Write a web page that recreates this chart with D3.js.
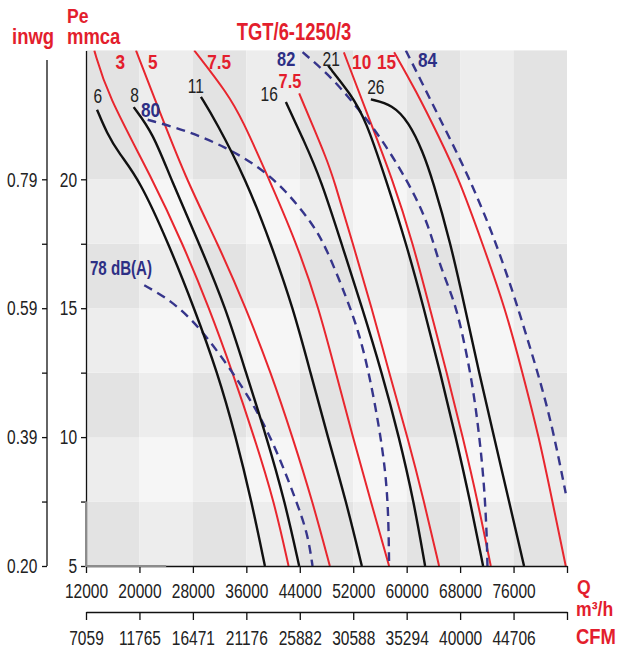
<!DOCTYPE html>
<html>
<head>
<meta charset="utf-8">
<script src="https://cdn.jsdelivr.net/npm/d3@7"></script>
<style>
  html, body { margin: 0; padding: 0; background: #ffffff; }
  svg { display: block; }
</style>
</head>
<body>
<div id="chart"></div>
<script>
// ---------------- DATA ----------------
// Air flow Q (m3/h) ticks and labels
const qTicks = [12000, 20000, 28000, 36000, 44000, 52000, 60000, 68000, 76000, 84000];
const qTickLabels = ["12000", "20000", "28000", "36000", "44000", "52000", "60000", "68000", "76000", ""];
const cfmTickLabels = ["7059", "11765", "16471", "21176", "25882", "30588", "35294", "40000", "44706", ""];
// Pressure Pe (mmca) ticks and labels
const peTicks = [5, 7.5, 10, 12.5, 15, 17.5, 20];
const peTickLabels = ["5", "", "10", "", "15", "", "20"];
const inwgTickLabels = ["0.20", "", "0.39", "", "0.59", "", "0.79"];
const peMax = 25;

// Fan curves (blade angle), [Q m3/h, Pe mmca]
const fanLabels = ["6", "8", "11", "16", "21", "26"];
const fan6  = [[13650,22.7],[15100,21.8],[16940,21.0],[19970,20],[24370,17.5],[28200,15],[31700,12.5],[34440,10],[36790,7.5],[38780,5]];
const fan8  = [[19140,22.8],[22020,21.8],[24720,20],[28950,17.5],[32940,15],[35940,12.5],[39030,10],[41770,7.5],[43910,5]];
const fan11 = [[29200,23.2],[31340,22.3],[35940,20],[39680,17.5],[43010,15],[45600,12.5],[48200,10],[50950,7.5],[53290,5]];
const fan16 = [[41920,23.0],[44610,21.5],[47160,20],[50250,17.5],[53360,15],[56280,12.5],[58870,10],[61070,7.5],[62760,5]];
const fan21 = [[48250,24.4],[51640,23.3],[53890,22.3],[56880,20],[59950,17.5],[62570,15],[65030,12.5],[67350,10],[69520,7.5],[71440,5]];
const fan26 = [[54640,23.1],[57880,22.9],[60370,22.2],[62370,21.1],[63870,20],[66600,17.5],[68740,15],[70840,12.5],[73080,10],[75330,7.5],[77570,5]];

// Absorbed power curves (kW)
const powerLabels = ["3", "5", "7.5", "7.5", "10", "15"];
const pow3   = [[13240,25],[15100,23.33],[21980,20],[26470,17.5],[30450,15],[33950,12.5],[37180,10],[40170,7.5],[42320,5]];
const pow5   = [[19480,25],[21980,23.33],[26960,20],[31750,17.5],[35940,15],[39680,12.5],[42920,10],[45910,7.5],[48500,5]];
const pow75a = [[28200,25],[33200,23.33],[35440,22.29],[38930,20.28],[43570,17.5],[46860,15],[49400,12.5],[51940,10],[54640,7.5],[57370,5]];
const pow75b = [[43910,23.33],[45910,22.1],[47900,20.86],[49100,20],[51940,17.5],[54790,15],[57370,12.5],[60130,10],[62610,7.5],[64850,5]];
const pow10  = [[50600,24.92],[54380,22.35],[57880,20],[60960,17.5],[63460,15],[66010,12.5],[68400,10],[70640,7.5],[72590,5]];
const pow15  = [[58120,24.93],[61370,23.45],[64850,21.64],[67850,20],[71350,17.5],[74760,15],[77330,12.5],[79810,10],[81820,7.5],[83810,5]];

// Noise curves dB(A)
const noiseLabels = ["78 dB(A)", "80", "82", "84"];
const noise78 = [[20720,15.89],[24720,15.31],[28950,14.28],[33440,12.72],[37930,10.92],[40920,9.24],[43420,7.56],[45170,6.28],[45910,5]];
const noise80 = [[21230,22.31],[26960,21.9],[32940,21.25],[37930,20.48],[41920,19.57],[45910,18.28],[47900,17.38],[51150,15.31],[52890,14.02],[54380,12.47],[55880,10.4],[56880,8.59],[57280,6.91],[57370,5]];
const noise82 = [[44420,24.93],[47900,24.16],[50900,23.32],[55380,21.9],[58870,20.48],[61370,19.31],[63360,18.15],[64850,16.73],[67100,15.31],[68350,14.02],[69850,12.08],[70840,10.14],[71590,8.21],[71990,6.27],[72090,5]];
const noise84 = [[59870,25],[62370,23.71],[64850,22.41],[67850,20.87],[70340,19.45],[72840,17.9],[75830,15.7],[77820,14.02],[79810,12.34],[81820,10.4],[83810,7.82]];

// Grey limit trace at bottom-left
const greyTrace = [[12000,7.5],[12000,5],[24000,5]];

const fanCurves = [fan6, fan8, fan11, fan16, fan21, fan26];
const powerCurves = [pow3, pow5, pow75a, pow75b, pow10, pow15];
const noiseCurves = [noise78, noise80, noise82, noise84];

// ---------------- LAYOUT / STYLE ----------------
const W = 617, H = 651;
const FONT = "'Liberation Sans', Arial, sans-serif";
const RED = "#e31e2d", RED_LINE = "#e8262e", BLUE = "#2d2f85", BLUE_LINE = "#36358b", INK = "#222";

const x = d3.scaleLinear().domain([qTicks[0], qTicks[qTicks.length - 1]]).range([86, 567]);
const y = d3.scaleLinear().domain([peTicks[0], peMax]).range([566, 50.4]);

const svg = d3.select("#chart").append("svg").attr("width", W).attr("height", H);

// Background checkerboard
const rowEdges = peTicks.concat([peMax]);
const bg = svg.append("g");
for (let i = 0; i < qTicks.length - 1; i++) {
  for (let j = 0; j < rowEdges.length - 1; j++) {
    const colDark = i % 2 === 0, rowDark = j % 2 === 0;
    const c = colDark && rowDark ? "#e3e3e3" : (colDark || rowDark ? "#ededed" : "#f6f6f6");
    bg.append("rect")
      .attr("x", x(qTicks[i])).attr("y", y(rowEdges[j + 1]))
      .attr("width", x(qTicks[i + 1]) - x(qTicks[i]))
      .attr("height", y(rowEdges[j]) - y(rowEdges[j + 1]))
      .attr("fill", c);
  }
}

svg.append("clipPath").attr("id", "clip").append("rect")
  .attr("x", x.range()[0]).attr("y", y.range()[1])
  .attr("width", x.range()[1] - x.range()[0]).attr("height", y.range()[0] - y.range()[1]);

const line = d3.line().x(d => x(d[0])).y(d => y(d[1])).curve(d3.curveBasis);
const plot = svg.append("g").attr("clip-path", "url(#clip)");

function txt(g, px, py, s, o) {
  return g.append("text")
    .attr("transform", `translate(${px},${py}) scale(${o.sx || 0.74},1)`)
    .attr("text-anchor", o.anchor || "middle")
    .attr("font-family", FONT)
    .attr("font-size", o.size || 21)
    .attr("font-weight", o.weight || "normal")
    .attr("fill", o.fill || INK)
    .text(s);
}

// Power curves (red)
powerCurves.forEach(c => plot.append("path").attr("d", line(c))
  .attr("fill", "none").attr("stroke", RED_LINE).attr("stroke-width", 2));
// Noise curves (blue dashed)
noiseCurves.forEach(c => plot.append("path").attr("d", line(c))
  .attr("fill", "none").attr("stroke", BLUE_LINE).attr("stroke-width", 2.4)
  .attr("stroke-dasharray", "9,6"));
// Fan curves (black)
fanCurves.forEach(c => plot.append("path").attr("d", line(c))
  .attr("fill", "none").attr("stroke", "#111").attr("stroke-width", 2.4));

// Curve labels (offsets in px from the first point of each curve)
const labels = svg.append("g");
const fanOff = [[0.7,-7],[1,-5],[-5,-4.3],[-16.7,-0.7],[3,0],[5,-5]];
fanCurves.forEach((c, i) => txt(labels, x(c[0][0]) + fanOff[i][0], y(c[0][1]) + fanOff[i][1], fanLabels[i], {}));
const powOff = [[26,18.3],[16.8,18.3],[25,18.3],[-9.2,-5.6],[17.8,16.3],[-7.5,16.6]];
powerCurves.forEach((c, i) => txt(labels, x(c[0][0]) + powOff[i][0], y(c[0][1]) + powOff[i][1], powerLabels[i],
  {weight: "bold", fill: RED, sx: 0.82, size: i === 3 ? 20 : 21}));
const noiseOff = [[-54.3,-10],[2.8,-2.6],[-16.4,14],[21.7,16.7]];
noiseCurves.forEach((c, i) => txt(labels, x(c[0][0]) + noiseOff[i][0], y(c[0][1]) + noiseOff[i][1], noiseLabels[i],
  {weight: "bold", fill: BLUE, sx: i === 0 ? 0.72 : 0.82, anchor: i === 0 ? "start" : "middle", size: i === 2 ? 20 : 21}));

// ---------------- AXES ----------------
function styleAxis(g, tx) {
  g.selectAll("path.domain").attr("stroke", "#111").attr("stroke-width", 1.3);
  g.selectAll(".tick line").attr("stroke", "#111").attr("stroke-width", 1.3);
  g.selectAll(".tick text").attr("font-family", FONT).attr("font-size", 21).attr("fill", INK)
    .attr("transform", "scale(0.74,1)");
  if (tx !== undefined) g.selectAll(".tick text").attr("x", tx);
}

// mmca axis
const gMM = svg.append("g").attr("transform", `translate(${x.range()[0]},0)`)
  .call(d3.axisLeft(y).tickValues(peTicks).tickFormat((d, i) => peTickLabels[i]).tickSize(5).tickSizeOuter(0));
styleAxis(gMM, -12);

// inwg axis
const gIN = svg.append("g").attr("transform", "translate(47,0)")
  .call(d3.axisLeft(y).tickValues(peTicks).tickFormat((d, i) => inwgTickLabels[i]).tickSize(5).tickSizeOuter(0));
gIN.select("path.domain").remove();
gIN.append("line").attr("x1", 0).attr("x2", 0).attr("y1", y.range()[1] + 9.6).attr("y2", y.range()[0])
  .attr("stroke", "#111").attr("stroke-width", 1.3);
styleAxis(gIN, -13.1);

// Q axis
const gQ = svg.append("g").attr("transform", `translate(0,${y.range()[0]})`)
  .call(d3.axisBottom(x).tickValues(qTicks).tickFormat((d, i) => qTickLabels[i]).tickSize(7).tickSizeOuter(0));
styleAxis(gQ);
gQ.selectAll(".tick text").attr("y", 17);

// CFM axis
const gC = svg.append("g").attr("transform", "translate(0,612)")
  .call(d3.axisBottom(x).tickValues(qTicks).tickFormat((d, i) => cfmTickLabels[i]).tickSize(8).tickSizeOuter(0));
styleAxis(gC);
gC.selectAll(".tick text").attr("y", 18);

// grey trace over the corner
svg.append("path").attr("d", d3.line().x(d => x(d[0])).y(d => y(d[1]))(greyTrace))
  .attr("fill", "none").attr("stroke", "#8c8c8c").attr("stroke-width", 2);

// ---------------- TITLES ----------------
const t = svg.append("g");
txt(t, 294, 40, "TGT/6-1250/3", {size: 23, weight: "bold", fill: RED, sx: 0.8});
txt(t, 12, 44, "inwg", {size: 22, weight: "bold", fill: RED, sx: 0.84, anchor: "start"});
txt(t, 67, 22.5, "Pe", {size: 21, weight: "bold", fill: RED, sx: 0.84, anchor: "start"});
txt(t, 67, 44, "mmca", {size: 22, weight: "bold", fill: RED, sx: 0.84, anchor: "start"});
txt(t, 577, 594, "Q", {size: 21, weight: "bold", fill: RED, sx: 0.84, anchor: "start"});
txt(t, 576, 616, "m³/h", {size: 21, weight: "bold", fill: RED, sx: 0.84, anchor: "start"});
txt(t, 576, 643.5, "CFM", {size: 22, weight: "bold", fill: RED, sx: 0.84, anchor: "start"});
</script>
</body>
</html>
